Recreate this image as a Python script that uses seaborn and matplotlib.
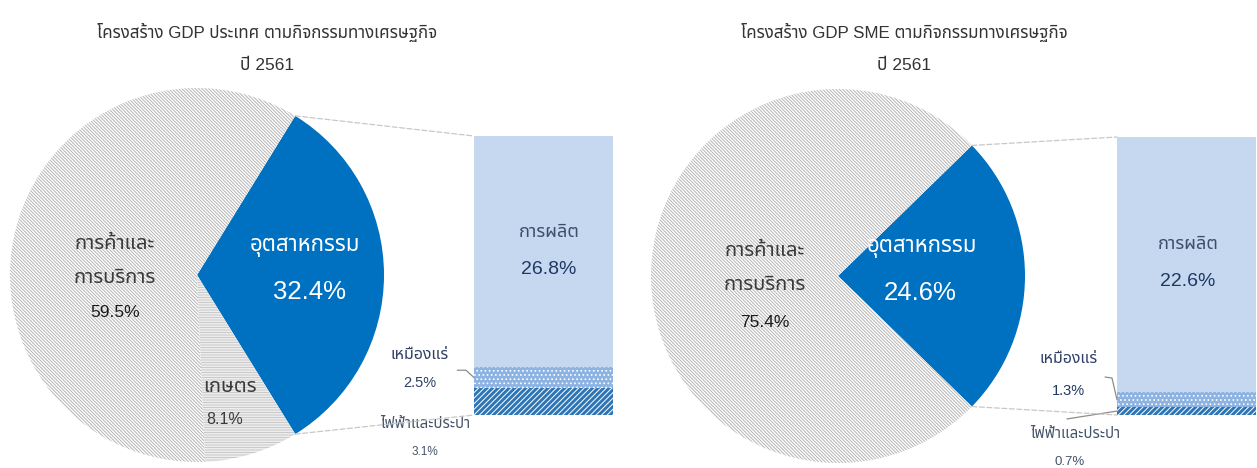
# %%
import numpy as np
import matplotlib.pyplot as plt
from matplotlib.patches import ConnectionPatch
import seaborn as sns

# %%
# data
pie_names_l = ["อุตสาหกรรม", "การค้าและ\nการบริการ", "เกษตร"]
pie_vals_l = [32.4, 59.5, 8.1]
bar_names_l = ["ไฟฟ้าและประปา", "เหมืองแร่", "การผลิต"]
bar_vals_l = [3.1, 2.5, 26.8]

pie_names_r = ["อุตสาหกรรม", "การค้าและ\nการบริการ"]
pie_vals_r = [24.6, 75.4]
bar_names_r = ["ไฟฟ้าและประปา", "เหมืองแร่", "การผลิต"]
bar_vals_r = [0.7, 1.3, 22.6]

title_l = "โครงสร้าง GDP ประเทศ ตามกิจกรรมทางเศรษฐกิจ"
title_r = "โครงสร้าง GDP SME ตามกิจกรรมทางเศรษฐกิจ"
year_txt = "ปี 2561"

# %%
sns.set_theme(style="white")
plt.rcParams['font.family'] = ['Liberation Sans', 'Noto Sans Thai', 'DejaVu Sans']
plt.rcParams['font.weight'] = 'light'
plt.rcParams['hatch.linewidth'] = 0.7

BLUE = "#0070C0"
LIGHT = "#C5D8F0"
MID = "#8DB3E2"
DARK = "#2E75B6"
NAVY = "#1F3864"
GREYTXT = "#44546A"
PIETXT = "#3A3A3A"

fig = plt.figure(figsize=(12.57, 4.68), dpi=100)
W, H = 1257, 468


def px_axes(x0, y0, x1, y1):
    # axes from pixel box (top-left origin)
    return fig.add_axes([x0 / W, (H - y1) / H, (x1 - x0) / W, (y1 - y0) / H])


def pie_of_bar(pie_box, bar_box, pie_vals, bar_vals, pie_hatch, pie_edge):
    ax_p = px_axes(*pie_box)
    start = -pie_vals[0] * 3.6 / 2
    wedges, _ = ax_p.pie(
        pie_vals,
        startangle=start,
        colors=[BLUE] + ["white"] * (len(pie_vals) - 1),
        hatch=pie_hatch,
        radius=1,
        wedgeprops=dict(linewidth=0),
    )
    for w, ec in zip(wedges, pie_edge):
        w.set_edgecolor(ec)
        w.set_linewidth(0)
    ax_p.set_xlim(-1, 1)
    ax_p.set_ylim(-1, 1)
    ax_p.set_aspect("equal")
    ax_p.axis("off")

    ax_b = px_axes(*bar_box)
    bottom = 0
    styles = [
        dict(color=DARK, hatch="//////", edgecolor="white"),
        dict(color=MID, hatch="....", edgecolor="white"),
        dict(color=LIGHT, hatch="", edgecolor=LIGHT),
    ]
    for v, st in zip(bar_vals, styles):
        ax_b.bar(0.5, v, width=1, bottom=bottom, linewidth=0, **st)
        bottom += v
    total = sum(bar_vals)
    ax_b.set_xlim(0, 1)
    ax_b.set_ylim(0, total)
    ax_b.axis("off")

    # dashed connectors from the blue wedge to the bar corners
    theta1, theta2 = wedges[0].theta1, wedges[0].theta2
    for th, yb in [(theta2, total), (theta1, 0)]:
        con = ConnectionPatch(
            xyA=(np.cos(np.radians(th)), np.sin(np.radians(th))), coordsA=ax_p.transData,
            xyB=(0, yb), coordsB=ax_b.transData,
            color="#C8C8C8", linestyle=(0, (4, 2)), linewidth=0.9,
        )
        fig.add_artist(con)
    return ax_p, ax_b


# %%
# left panel: whole country
ax_pl, ax_bl = pie_of_bar(
    (10, 88, 384, 462), (474, 136, 613, 415),
    pie_vals_l, bar_vals_l,
    ["", "\\\\\\\\\\\\\\\\\\\\", "----------"], ["white", "#B4B4B4", "#C8C8C8"],
)
# right panel: SME
ax_pr, ax_br = pie_of_bar(
    (651, 89, 1025, 463), (1117, 137, 1256, 415),
    pie_vals_r, bar_vals_r,
    ["", "\\\\\\\\\\\\\\\\\\\\"], ["white", "#B4B4B4"],
)

# titles
for xc, t in [(267, title_l), (904, title_r)]:
    fig.text(xc / W, 1 - 32 / H, t, ha="center", va="center", fontsize=12.2, color="#333333")
    fig.text(xc / W, 1 - 65 / H, year_txt, ha="center", va="center", fontsize=12.5, color="#333333")

# pie labels (left)
kw = dict(ha="center", va="center")
nm = pie_names_l[1].split("\n")
ax_pl.text(-0.44, 0.171, nm[0], fontsize=14.5, color=PIETXT, **kw)
ax_pl.text(-0.44, -0.011, nm[1], fontsize=14.5, color=PIETXT, **kw)
ax_pl.text(-0.44, -0.198, f"{pie_vals_l[1]}%", fontsize=12.5, color="#1A1A1A", **kw)
ax_pl.text(0.578, 0.150, pie_names_l[0], fontsize=16, color="white", **kw)
ax_pl.text(0.604, -0.091, f"{pie_vals_l[0]}%", fontsize=18.5, color="white", **kw)
ax_pl.text(0.176, -0.594, pie_names_l[2], fontsize=14.5, color=PIETXT, **kw)
ax_pl.text(0.150, -0.775, f"{pie_vals_l[2]}%", fontsize=11.5, color=PIETXT, **kw)

# pie labels (right)
nm = pie_names_r[1].split("\n")
ax_pr.text(-0.39, 0.139, nm[0], fontsize=14.5, color=PIETXT, **kw)
ax_pr.text(-0.39, -0.048, nm[1], fontsize=14.5, color=PIETXT, **kw)
ax_pr.text(-0.39, -0.246, f"{pie_vals_r[1]}%", fontsize=12.5, color="#1A1A1A", **kw)
ax_pr.text(0.45, 0.150, pie_names_r[0], fontsize=16, color="white", **kw)
ax_pr.text(0.439, -0.091, f"{pie_vals_r[0]}%", fontsize=18.5, color="white", **kw)

# bar labels (left)
kw_b = dict(ha="center", va="center", clip_on=False)
ax_bl.text(0.54, 21.25, bar_names_l[2], fontsize=13, color="#3B4E6B", **kw_b)
ax_bl.text(0.54, 16.84, f"{bar_vals_l[2]}%", fontsize=14, color=NAVY, **kw_b)
ax_bl.text(-0.39, 6.97, bar_names_l[1], fontsize=11.5, color="#2F3F66", **kw_b)
ax_bl.text(-0.39, 3.72, f"{bar_vals_l[1]}%", fontsize=10.5, color="#2F3F66", **kw_b)
ax_bl.text(-0.35, -1.05, bar_names_l[0], fontsize=10.8, color=GREYTXT, **kw_b)
ax_bl.text(-0.35, -4.3, f"{bar_vals_l[0]}%", fontsize=8.5, color=GREYTXT, **kw_b)
ax_bl.plot([-0.12, -0.058, 0], [5.2, 5.2, bar_vals_l[0] + bar_vals_l[1] / 2],
           color="#8C8C8C", lw=0.9, clip_on=False)

# bar labels (right)
ax_br.text(0.51, 15.13, bar_names_r[2], fontsize=13, color="#3B4E6B", **kw_b)
ax_br.text(0.51, 11.77, f"{bar_vals_r[2]}%", fontsize=14, color=NAVY, **kw_b)
ax_br.text(-0.35, 5.04, bar_names_r[1], fontsize=11.5, color="#2F3F66", **kw_b)
ax_br.text(-0.35, 2.12, f"{bar_vals_r[1]}%", fontsize=10.5, color=NAVY, **kw_b)
ax_br.text(-0.30, -1.68, bar_names_r[0], fontsize=10.8, color=GREYTXT, **kw_b)
ax_br.text(-0.34, -4.16, f"{bar_vals_r[0]}%", fontsize=9.5, color=GREYTXT, **kw_b)
ax_br.plot([-0.086, -0.036, 0], [3.36, 3.27, bar_vals_r[0] + bar_vals_r[1] / 2],
           color="#8C8C8C", lw=0.9, clip_on=False)
ax_br.plot([-0.36, 0], [-0.35, bar_vals_r[0] / 2], color="#8C8C8C", lw=0.9, clip_on=False)

plt.savefig("out.png", dpi=100)
